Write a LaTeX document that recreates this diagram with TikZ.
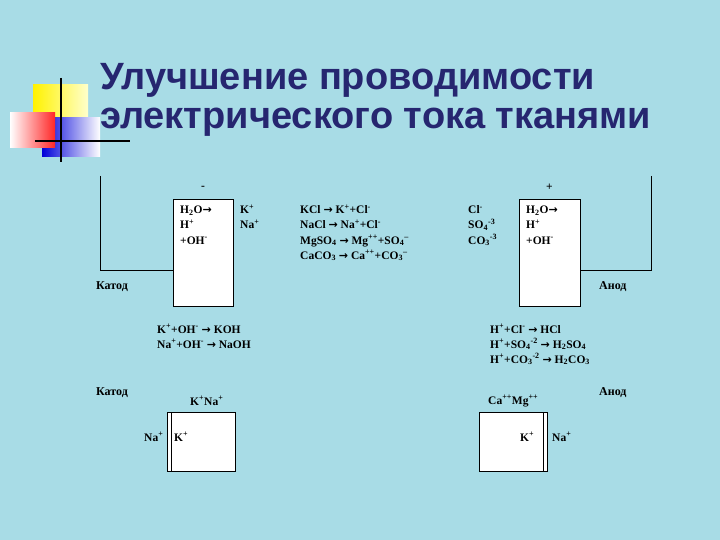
\documentclass[tikz,border=0pt]{standalone}
\usepackage{fontspec}
\setmainfont{Liberation Serif}
\newfontfamily\titlefont{Liberation Sans}
\newfontfamily\arrfont{DejaVu Sans}
\newcommand{\ar}{{\arrfont\bfseries\fontsize{11}{12}\selectfont →}}
\definecolor{bgc}{HTML}{A8DCE6}
\definecolor{navy}{HTML}{262670}
\begin{document}
\begin{tikzpicture}[x=1pt,y=-1pt,
  t/.style={anchor=base west,inner sep=0pt,font=\bfseries\fontsize{11.5}{13}\selectfont},
  lab/.style={anchor=base west,inner sep=0pt,font=\bfseries\fontsize{12}{13}\selectfont},
  ttl/.style={anchor=base west,inner sep=0pt,text=navy,font=\titlefont\bfseries\fontsize{38}{42}\selectfont},
  cell/.style={draw=black,fill=white,line width=0.8pt},
  wire/.style={draw=black,line width=0.8pt}]
\fill[bgc] (0,0) rectangle (720,540);
\useasboundingbox (0,0) rectangle (720,540);
% logo
\shade[left color=yellow!90!orange,right color=yellow!20] (33,85) rectangle (88,120);
\shade[left color=blue!85!black,right color=white] (42,118) rectangle (100,157);
\shade[left color=white,right color=red!85] (10,113) rectangle (55,148);
\draw[line width=1.5pt] (61,78) -- (61,162);
\draw[line width=1.5pt] (35,141) -- (130,141);
% title
\node[ttl] (t1) at (100,90) {Улучшение проводимости};
\node[ttl] (t2) at (100,129) {электрического тока тканями};
% top left cell
\node[cell,minimum width=60,minimum height=107,inner sep=0,anchor=north west] (cL) at (173,199) {};
\coordinate (wl1) at (100,176); \coordinate (wl2) at (100,270);
\draw[wire] (wl1) -- (wl2) -- (cL.west |- wl2);
\node[t] (minus) at (201,190) {-};
\node[t] (a1) at (180,214) {H\textsubscript{2}O\ar};
\node[t] (a2) at (180,229) {H\textsuperscript{+}};
\node[t] (a3) at (180,244) {+OH\textsuperscript{-}};
\node[t] (b1) at (240,214) {K\textsuperscript{+}};
\node[t] (b2) at (240,229) {Na\textsuperscript{+}};
\node[lab] (kat1) at (96,289) {Катод};
\node[t] (c1) at (157,333) {K\textsuperscript{+}+OH\textsuperscript{-} \ar\ KOH};
\node[t] (c2) at (157,348) {Na\textsuperscript{+}+OH\textsuperscript{-} \ar\ NaOH};
% middle
\node[t] (m1) at (300,214) {KCl \ar\ K\textsuperscript{+}+Cl\textsuperscript{-}};
\node[t] (m2) at (300,229) {NaCl \ar\ Na\textsuperscript{+}+Cl\textsuperscript{-}};
\node[t] (m3) at (300,244) {MgSO\textsubscript{4} \ar\ Mg\textsuperscript{++}+SO\textsubscript{4}\textsuperscript{--}};
\node[t] (m4) at (300,259) {CaCO\textsubscript{3} \ar\ Ca\textsuperscript{++}+CO\textsubscript{3}\textsuperscript{--}};
% top right cell
\node[cell,minimum width=61,minimum height=107,inner sep=0,anchor=north west] (cR) at (519,199) {};
\coordinate (wr1) at (651,176); \coordinate (wr2) at (651,270);
\draw[wire] (wr1) -- (wr2) -- (cR.east |- wr2);
\node[t] (plus) at (546,191) {+};
\node[t] (d1) at (468,214) {Cl\textsuperscript{-}};
\node[t] (d2) at (468,229) {SO\textsubscript{4}\textsuperscript{-3}};
\node[t] (d3) at (468,244) {CO\textsubscript{3}\textsuperscript{-3}};
\node[t] (e1) at (526,214) {H\textsubscript{2}O\ar};
\node[t] (e2) at (526,229) {H\textsuperscript{+}};
\node[t] (e3) at (526,244) {+OH\textsuperscript{-}};
\node[lab] (an1) at (599,289) {Анод};
\node[t] (f1) at (490,333) {H\textsuperscript{+}+Cl\textsuperscript{-} \ar\ HCl};
\node[t] (f2) at (490,348) {H\textsuperscript{+}+SO\textsubscript{4}\textsuperscript{-2} \ar\ H\textsubscript{2}SO\textsubscript{4}};
\node[t] (f3) at (490,363) {H\textsuperscript{+}+CO\textsubscript{3}\textsuperscript{-2} \ar\ H\textsubscript{2}CO\textsubscript{3}};
% bottom left
\node[lab] (kat2) at (96,395) {Катод};
\node[t] (g1) at (190,405) {K\textsuperscript{+}Na\textsuperscript{+}};
\node[cell,minimum width=68,minimum height=59,inner sep=0,anchor=north west] (bL) at (167,412) {};
\draw[wire] ([xshift=4]bL.north west) -- ([xshift=4]bL.south west);
\node[t] (g2) at (144,441) {Na\textsuperscript{+}};
\node[t] (g3) at (174,441) {K\textsuperscript{+}};
% bottom right
\node[lab] (an2) at (599,395) {Анод};
\node[t] (h1) at (488,404) {Ca\textsuperscript{++}Mg\textsuperscript{++}};
\node[cell,minimum width=68,minimum height=59,inner sep=0,anchor=north west] (bR) at (479,412) {};
\draw[wire] ([xshift=-4]bR.north east) -- ([xshift=-4]bR.south east);
\node[t] (h2) at (520,441) {K\textsuperscript{+}};
\node[t] (h3) at (552,441) {Na\textsuperscript{+}};
\end{tikzpicture}
\end{document}
